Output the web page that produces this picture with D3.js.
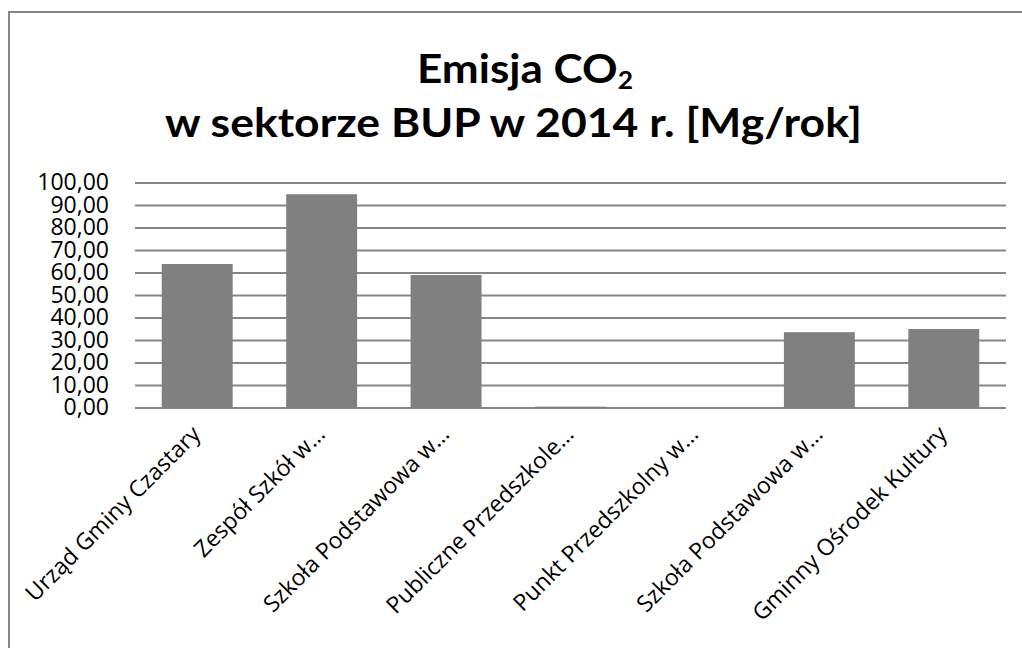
<!DOCTYPE html>
<html><head><meta charset="utf-8">
<script src="https://cdn.jsdelivr.net/npm/d3@7"></script>
<style>body{margin:0;background:#fff;}svg{display:block;}
.lbl{font-family:'Open Sans',sans-serif;}
.ttl{font-family:'Lato',sans-serif;font-weight:bold;}
</style>
</head><body>
<svg id="c" width="1022" height="648"></svg>
<script>
const categories = ["Urząd Gminy Czastary","Zespół Szkół w…","Szkoła Podstawowa w…","Publiczne Przedszkole…","Punkt Przedszkolny w…","Szkoła Podstawowa w…","Gminny Ośrodek Kultury"];
const values = [64.0, 95.0, 59.1, 0.6, 0, 33.7, 35.1];
const yTicks = [0,10,20,30,40,50,60,70,80,90,100];
const titleLine1 = "Emisja CO";
const titleSub = "2";
const titleLine2 = "w sektorze BUP w 2014 r. [Mg/rok]";

const svg = d3.select("#c");
const m = {left:135, right:1006, top:183, bottom:408};
svg.append("rect").attr("x",9).attr("y",12).attr("width",1100).attr("height",1000)
  .attr("fill","#fff").attr("stroke","#868686").attr("stroke-width",2);

const x = d3.scaleBand().domain(d3.range(categories.length)).range([m.left,m.right]).paddingInner(0.43).paddingOuter(0.215);
const y = d3.scaleLinear().domain([0,100]).range([m.bottom,m.top]);

// gridlines
svg.append("g").selectAll("line").data(yTicks).join("line")
  .attr("x1",m.left).attr("x2",m.right)
  .attr("y1",d=>y(d)).attr("y2",d=>y(d))
  .attr("stroke","#868686").attr("stroke-width",2);

// y axis labels
const fmt = d => d3.format(".2f")(d).replace(".",",");
const yAxis = d3.axisLeft(y).tickValues(yTicks).tickFormat(fmt).tickSize(0).tickPadding(0);
const ga = svg.append("g").attr("transform",`translate(109,0)`).call(yAxis);
ga.select(".domain").remove();
ga.attr("font-family",null).attr("font-size",null);
ga.selectAll("text").attr("class","lbl").style("font-size","23px").attr("fill","#000").attr("dy","0.3em");

// bars
svg.append("g").selectAll("rect").data(values).join("rect")
  .attr("x",(d,i)=>x(i)).attr("width",x.bandwidth())
  .attr("y",d=>y(d)).attr("height",d=>y(0)-y(d))
  .attr("fill","#808080");

// category labels
svg.append("g").selectAll("text").data(categories).join("text")
  .attr("class","lbl")
  .attr("transform",(d,i)=>`translate(${x(i)+x.bandwidth()/2-1},${m.bottom+22}) rotate(-45)`)
  .attr("text-anchor","end").attr("dy","0.35em")
  .style("font-size","23px").attr("fill","#000")
  .text(d=>d);

// title
const t1 = svg.append("text").attr("class","ttl").attr("x",525).attr("y",83).attr("text-anchor","middle")
  .style("font-size","40px").attr("fill","#000")
  .attr("textLength",216).attr("lengthAdjust","spacingAndGlyphs");
t1.append("tspan").text(titleLine1);
t1.append("tspan").style("font-size","24px").attr("dy",6).text(titleSub);
svg.append("text").attr("class","ttl").attr("x",513.5).attr("y",137).attr("text-anchor","middle")
  .style("font-size","40px").attr("fill","#000")
  .attr("textLength",697).attr("lengthAdjust","spacingAndGlyphs")
  .text(titleLine2);
</script>
</body></html>
